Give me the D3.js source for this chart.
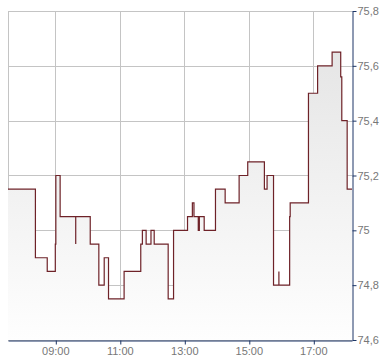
<!DOCTYPE html>
<html>
<head>
<meta charset="utf-8">
<script src="https://cdn.jsdelivr.net/npm/d3@7"></script>
<style>
  body { margin: 0; background: #fff; }
  text { font-family: Arial, "Liberation Sans", sans-serif; font-size: 11px; fill: #777; }
</style>
</head>
<body>
<svg width="390" height="364"></svg>
<script>
// trade times and prices (step after each point)
var times = ["07:32", "08:23", "08:45", "09:00", "09:01", "09:09", "09:38", "09:38", "10:05", "10:21",
             "10:31", "10:39", "11:08", "11:39", "11:42", "11:49", "11:58", "12:04", "12:30", "12:40",
             "13:06", "13:15", "13:18", "13:26", "13:28", "13:37", "13:58", "14:16", "14:42", "14:58",
             "15:29", "15:34", "15:46", "15:56", "15:56", "16:16", "16:17", "16:51", "17:08", "17:35",
             "17:51", "17:53", "18:03", "18:12"];
var prices = [75.15, 74.9, 74.85, 74.95, 75.2, 75.05, 74.95, 75.05, 74.95, 74.8,
              74.9, 74.75, 74.85, 74.95, 75.0, 74.95, 75.0, 74.95, 74.75, 75.0,
              75.05, 75.1, 75.05, 75.0, 75.05, 75.0, 75.15, 75.1, 75.2, 75.25,
              75.15, 75.2, 74.8, 74.85, 74.8, 75.05, 75.1, 75.5, 75.6, 75.65,
              75.56, 75.4, 75.15, 75.15];
var xTicks = ["09:00", "11:00", "13:00", "15:00", "17:00"];
var yTicks = [74.6, 74.8, 75, 75.2, 75.4, 75.6, 75.8];

var parseTime = d3.timeParse("%H:%M");
var data = times.map(function(t, i) { return { t: parseTime(t), v: prices[i] }; });

var svg = d3.select("svg");
var x = d3.scaleTime().domain([parseTime("07:32"), parseTime("18:12")]).range([8, 352]);
var y = d3.scaleLinear().domain([74.6, 75.8]).range([340, 11]);
var comma = d3.formatLocale({ decimal: ",", thousands: ".", grouping: [3], currency: ["", "€"] }).format(".1~f");

function px(v) { return Math.round(v) + 0.5; }

var grad = svg.append("defs").append("linearGradient")
    .attr("id", "fill")
    .attr("gradientUnits", "userSpaceOnUse")
    .attr("x1", 0).attr("y1", y(75.8))
    .attr("x2", 0).attr("y2", y(74.6));
grad.append("stop").attr("offset", 0).attr("stop-color", "#e2e2e2");
grad.append("stop").attr("offset", 1).attr("stop-color", "#fefefe");

// grid
svg.selectAll(".hgrid")
    .data(yTicks)
    .enter()
  .append("line")
    .attr("class", "hgrid")
    .attr("x1", 8).attr("x2", 352)
    .attr("y1", function(d) { return px(y(d)); })
    .attr("y2", function(d) { return px(y(d)); })
    .attr("stroke", "#c4c4c4");

svg.selectAll(".vgrid")
    .data([parseTime("07:32")].concat(xTicks.map(parseTime)))
    .enter()
  .append("line")
    .attr("class", "vgrid")
    .attr("y1", 11).attr("y2", 340)
    .attr("x1", function(d) { return px(x(d)); })
    .attr("x2", function(d) { return px(x(d)); })
    .attr("stroke", "#c4c4c4");

// area + step line
svg.append("path")
    .datum(data)
    .attr("fill", "url(#fill)")
    .attr("d", d3.area()
      .curve(d3.curveStepAfter)
      .x(function(d) { return x(d.t); })
      .y0(y(74.6))
      .y1(function(d) { return y(d.v); }));

svg.append("path")
    .datum(data)
    .attr("fill", "none")
    .attr("stroke", "#6e2228")
    .attr("stroke-width", 1.2)
    .attr("d", d3.line()
      .curve(d3.curveStepAfter)
      .x(function(d) { return x(d.t); })
      .y(function(d) { return y(d.v); }));

// axes
var xAxis = svg.append("g")
    .attr("transform", "translate(0," + px(y(74.6)) + ")")
    .call(d3.axisBottom(x)
      .tickValues(xTicks.map(parseTime))
      .tickFormat(d3.timeFormat("%H:%M"))
      .tickSize(4)
      .tickSizeOuter(0));

var yAxis = svg.append("g")
    .attr("transform", "translate(" + px(352) + ",0)")
    .call(d3.axisRight(y)
      .tickValues(yTicks)
      .tickFormat(comma)
      .tickSize(4)
      .tickSizeOuter(0));

svg.selectAll(".domain, .tick line").attr("stroke", "#1c3566");
xAxis.selectAll(".tick line").attr("transform", "translate(0.5,0)");
xAxis.selectAll("text").attr("y", 7).attr("fill", "#777").style("font-family", null);
yAxis.selectAll("text").attr("x", 5).attr("fill", "#777").style("font-family", null);
svg.selectAll(".tick text").attr("font-size", null).attr("font-family", null);
</script>
</body>
</html>
